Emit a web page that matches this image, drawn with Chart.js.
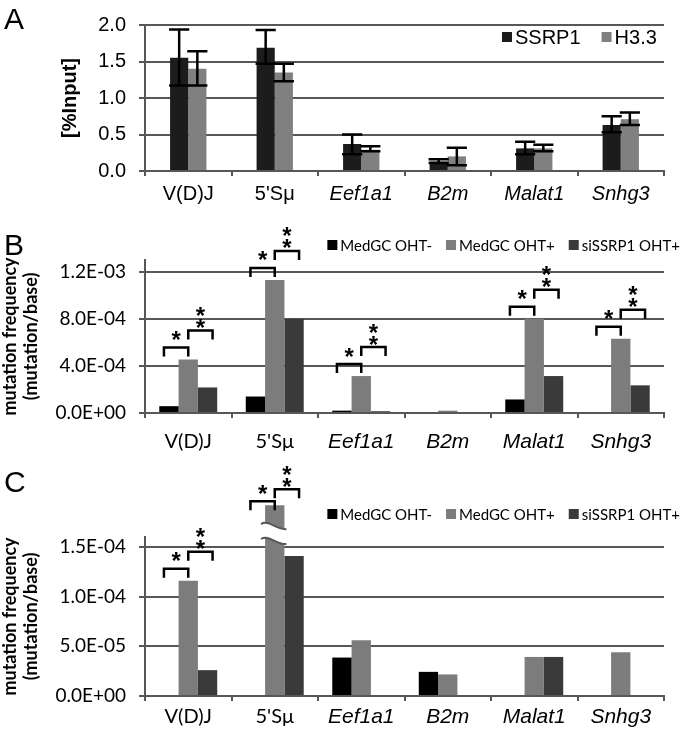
<!DOCTYPE html>
<html>
<head>
<meta charset="utf-8">
<title>SSRP1 ChIP and mutation frequency</title>
<script src="https://cdn.jsdelivr.net/npm/chart.js@4.4.0/dist/chart.umd.min.js"></script>
<style>
    html, body { margin: 0; padding: 0; background: #fff; }
    #figure { position: relative; width: 683px; height: 737px; overflow: hidden; background: #fff; }
    #figure canvas { position: absolute; left: 0; }
    .panel-letter {
        position: absolute;
        left: 4px;
        font: 30px "Liberation Sans", Arial, sans-serif;
        color: #000;
        line-height: 1;
    }
</style>
</head>
<body>
<div id="figure">
    <canvas id="chart-a" width="683" height="210" style="top:0"></canvas>
    <canvas id="chart-b" width="683" height="235" style="top:225px"></canvas>
    <canvas id="chart-c" width="683" height="277" style="top:460px"></canvas>
    <div class="panel-letter" style="top:4px">A</div>
    <div class="panel-letter" style="top:230px">B</div>
    <div class="panel-letter" style="top:467px">C</div>
</div>
<script>
// Categories shared by all three panels
const GENES = ['V(D)J', "5'Sμ", 'Eef1a1', 'B2m', 'Malat1', 'Snhg3'];

// Panel A - ChIP (% input) with error bars
const CHIP_SERIES = ['SSRP1', 'H3.3'];
const SSRP1_INPUT = [1.55, 1.69, 0.37, 0.13, 0.31, 0.63];
const SSRP1_LOW = [1.17, 1.47, 0.23, 0.11, 0.23, 0.53];
const SSRP1_HIGH = [1.94, 1.93, 0.50, 0.16, 0.40, 0.75];
const H33_INPUT = [1.40, 1.35, 0.29, 0.20, 0.31, 0.71];
const H33_LOW = [1.17, 1.23, 0.27, 0.08, 0.27, 0.63];
const H33_HIGH = [1.64, 1.47, 0.34, 0.32, 0.36, 0.80];
const A_TICKS = [0, 0.5, 1.0, 1.5, 2.0];
const A_MAX = 2.0;

// Panels B and C - mutation frequency (mutation/base)
const MUT_SERIES = ['MedGC OHT-', 'MedGC OHT+', 'siSSRP1 OHT+'];

const B_OHT_NEG = [0.58e-4, 1.40e-4, 0.20e-4, 0, 1.15e-4, 0];
const B_OHT_POS = [4.55e-4, 11.3e-4, 3.14e-4, 0.20e-4, 8.0e-4, 6.3e-4];
const B_SI = [2.17e-4, 8.0e-4, 0.15e-4, 0, 3.14e-4, 2.35e-4];
const B_TICKS = [0, 4e-4, 8e-4, 1.2e-3];
const B_MAX = 1.3e-3;
const B_SIGNIFICANT = ['V(D)J', "5'Sμ", 'Eef1a1', 'Malat1', 'Snhg3'];

const C_OHT_NEG = [0, 0, 3.87e-5, 2.43e-5, 0, 0];
const C_OHT_POS = [1.16e-4, 1.92e-4, 5.6e-5, 2.17e-5, 3.93e-5, 4.4e-5];
const C_SI = [2.6e-5, 1.41e-4, 0, 0, 3.93e-5, 0];
const C_TICKS = [0, 5e-5, 1.0e-4, 1.5e-4];
const C_MAX = 1.6e-4;
const C_SIGNIFICANT = ['V(D)J', "5'Sμ"];
const C_BROKEN = "5'Sμ"; // MedGC OHT+ bar runs off the axis

// Fonts
const ARIAL = '"Liberation Sans", Arial, sans-serif';
const CALIBRI = 'Lato, "Open Sans", sans-serif';
const AXIS_GREY = '#575757';

/**
 * Format a number like Excel's 0.0E+00
 */
function sci(value) {
    if (value === 0) return '0.0E+00';
    const [mant, exp] = value.toExponential(1).split('e');
    const n = parseInt(exp, 10);
    return mant + 'E' + (n < 0 ? '-' : '+') + String(Math.abs(n)).padStart(2, '0');
}

/**
 * Error bars for datasets that carry errorLow / errorHigh
 */
const errorBarPlugin = {
    id: 'errorBars',
    afterDatasetsDraw(chart) {
        const { ctx } = chart;
        const y = chart.scales.y;
        chart.data.datasets.forEach((ds, di) => {
            if (!ds.errorLow) return;
            chart.getDatasetMeta(di).data.forEach((bar, i) => {
                const top = y.getPixelForValue(ds.errorHigh[i]);
                const bottom = y.getPixelForValue(ds.errorLow[i]);
                const half = bar.width / 2 + 1;
                ctx.save();
                ctx.strokeStyle = '#000';
                ctx.lineWidth = 2.5;
                ctx.beginPath();
                ctx.moveTo(bar.x, top);
                ctx.lineTo(bar.x, bottom);
                ctx.moveTo(bar.x - half, top);
                ctx.lineTo(bar.x + half, top);
                ctx.moveTo(bar.x - half, bottom);
                ctx.lineTo(bar.x + half, bottom);
                ctx.stroke();
                ctx.restore();
            });
        });
    }
};

/**
 * Small legend: anchored on its left edge or on its right edge
 */
const cornerLegendPlugin = {
    id: 'cornerLegend',
    afterDraw(chart, args, opts) {
        if (!opts.y) return;
        const ctx = chart.ctx;
        ctx.save();
        ctx.font = opts.font;
        ctx.textBaseline = 'middle';
        const box = opts.box;
        const textGap = 3;
        const items = chart.data.datasets.map(ds => ({
            text: ds.label,
            color: ds.backgroundColor,
            width: ctx.measureText(ds.label).width
        }));
        const total = items.reduce((sum, it) => sum + box + textGap + it.width, 0) + opts.gap * (items.length - 1);
        let x = opts.left !== undefined ? opts.left : opts.right - total;
        items.forEach(it => {
            ctx.fillStyle = it.color;
            ctx.fillRect(x, opts.y - box / 2, box, box);
            ctx.fillStyle = '#000';
            ctx.fillText(it.text, x + box + textGap, opts.y + 1);
            x += box + textGap + it.width + opts.gap;
        });
        ctx.restore();
    }
};

function drawBracket(ctx, left, right, top) {
    ctx.beginPath();
    ctx.moveTo(left, top + 9);
    ctx.lineTo(left, top);
    ctx.lineTo(right, top);
    ctx.lineTo(right, top + 9);
    ctx.stroke();
}

// asterisks stacked upward from a centre point
function drawStars(ctx, x, y, count) {
    const size = 24;
    for (let k = 0; k < count; k++) {
        ctx.fillText('*', x, y - k * 12 + size * 0.52);
    }
}

/**
 * Significance brackets: OHT- vs OHT+ (*) and OHT+ vs siSSRP1 (**)
 */
const significancePlugin = {
    id: 'significance',
    afterDatasetsDraw(chart, args, opts) {
        if (!opts.genes) return;
        const ctx = chart.ctx;
        const [neg, pos, si] = [0, 1, 2].map(i => chart.getDatasetMeta(i).data);
        ctx.save();
        ctx.strokeStyle = '#000';
        ctx.fillStyle = '#000';
        ctx.lineWidth = 2.5;
        ctx.font = 'bold 24px ' + ARIAL;
        ctx.textAlign = 'center';
        ctx.textBaseline = 'alphabetic';
        opts.genes.forEach(gene => {
            const i = chart.data.labels.indexOf(gene);
            const tight = gene === opts.tightGene;
            const top1 = pos[i].y - (tight ? 4 : 12);
            const top2 = top1 - (tight ? 12 : 17);
            const l1 = neg[i].x - 5, r1 = pos[i].x;
            const l2 = pos[i].x, r2 = si[i].x + 5;
            drawBracket(ctx, l1, r1, top1);
            drawBracket(ctx, l2, r2, top2);
            drawStars(ctx, (l1 + r1) / 2, top1 - 12, 1);
            drawStars(ctx, (l2 + r2) / 2, top2 - 7, 2);
        });
        ctx.restore();
    }
};

/**
 * Wavy break across a bar that runs past the top of the axis
 */
const axisBreakPlugin = {
    id: 'axisBreak',
    afterDatasetsDraw(chart, args, opts) {
        if (!opts.gene) return;
        const i = chart.data.labels.indexOf(opts.gene);
        const bar = chart.getDatasetMeta(opts.dataset).data[i];
        const y = chart.scales.y;
        const yUp = y.getPixelForValue(opts.upper);
        const yLow = y.getPixelForValue(opts.lower);
        const x0 = bar.x - bar.width / 2 - 4;
        const x1 = bar.x + bar.width / 2 + 2;
        const w = x1 - x0;
        const ctx = chart.ctx;
        const wave = (yb, forward) => {
            if (forward) {
                ctx.bezierCurveTo(x0 + 0.3 * w, yb - 5, x0 + 0.6 * w, yb + 6, x1, yb + 5);
            } else {
                ctx.bezierCurveTo(x0 + 0.6 * w, yb + 6, x0 + 0.3 * w, yb - 5, x0, yb);
            }
        };
        ctx.save();
        ctx.fillStyle = '#fff';
        ctx.beginPath();
        ctx.moveTo(x0, yUp);
        wave(yUp, true);
        ctx.lineTo(x1, yLow + 5);
        wave(yLow, false);
        ctx.closePath();
        ctx.fill();
        ctx.strokeStyle = '#555';
        ctx.lineWidth = 2;
        ctx.beginPath();
        ctx.moveTo(x0, yUp);
        wave(yUp, true);
        ctx.moveTo(x0, yLow);
        wave(yLow, true);
        ctx.stroke();
        ctx.restore();
    }
};

/**
 * Build one bar panel
 */
function buildPanel(canvasId, cfg) {
    return new Chart(document.getElementById(canvasId), {
        type: 'bar',
        data: { labels: GENES, datasets: cfg.datasets },
        options: {
            responsive: false,
            animation: false,
            layout: { padding: { top: cfg.padTop, right: 19, bottom: 0, left: 0 } },
            datasets: {
                bar: { categoryPercentage: cfg.catPct, barPercentage: 1, borderWidth: 0 }
            },
            plugins: {
                legend: { display: false },
                tooltip: { enabled: false },
                cornerLegend: cfg.legend,
                significance: cfg.significance || {},
                axisBreak: cfg.axisBreak || {}
            },
            scales: {
                x: {
                    afterFit: s => { s.height = cfg.xHeight; },
                    ticks: {
                        color: '#000',
                        padding: cfg.xPad,
                        maxRotation: 0,
                        autoSkip: false,
                        font: ctx => ({
                            family: ctx.index >= 2 ? ARIAL : cfg.xFamily,
                            size: ctx.index >= 2 ? cfg.xItalicSize : cfg.xSize,
                            style: ctx.index >= 2 ? 'italic' : 'normal'
                        })
                    },
                    grid: { drawOnChartArea: false, color: AXIS_GREY, lineWidth: 2, tickLength: 5, offset: true },
                    border: { color: AXIS_GREY, width: 2 }
                },
                y: {
                    min: 0,
                    max: cfg.yMax,
                    bounds: 'data',
                    afterBuildTicks: s => { s.ticks = cfg.yTicks.map(v => ({ value: v })); },
                    afterFit: s => { s.width = 145; },
                    ticks: { callback: cfg.yFormat, color: '#000', padding: 13, font: cfg.yTickFont },
                    grid: { color: AXIS_GREY, lineWidth: 2, tickLength: 6 },
                    border: { color: AXIS_GREY, width: 2 },
                    title: {
                        display: true,
                        text: cfg.yTitle,
                        color: '#000',
                        font: cfg.yTitleFont,
                        padding: { top: cfg.titlePad, bottom: 0 }
                    }
                }
            }
        },
        plugins: [errorBarPlugin, significancePlugin, axisBreakPlugin, cornerLegendPlugin]
    });
}

function mutationDatasets(neg, pos, si, breakPos) {
    return [
        { label: MUT_SERIES[0], data: neg, backgroundColor: '#000000' },
        { label: MUT_SERIES[1], data: pos, backgroundColor: '#7c7c7c', clip: breakPos ? false : undefined },
        { label: MUT_SERIES[2], data: si, backgroundColor: '#3a3a3a' }
    ];
}

// Panel A
buildPanel('chart-a', {
    datasets: [
        { label: CHIP_SERIES[0], data: SSRP1_INPUT, backgroundColor: '#1c1c1c', errorLow: SSRP1_LOW, errorHigh: SSRP1_HIGH },
        { label: CHIP_SERIES[1], data: H33_INPUT, backgroundColor: '#808080', errorLow: H33_LOW, errorHigh: H33_HIGH }
    ],
    padTop: 16,
    xHeight: 39,
    xPad: 6,
    xFamily: ARIAL,
    xSize: 20,
    xItalicSize: 20,
    catPct: 0.42,
    yMax: A_MAX,
    yTicks: A_TICKS,
    yFormat: v => v.toFixed(1),
    yTickFont: { family: ARIAL, size: 20 },
    yTitle: '[%Input]',
    yTitleFont: { family: ARIAL, size: 20, weight: 'bold' },
    titlePad: 58,
    legend: { left: 502, y: 37, box: 10, gap: 21, font: '20px ' + ARIAL }
});

// Panel B
buildPanel('chart-b', {
    datasets: mutationDatasets(B_OHT_NEG, B_OHT_POS, B_SI, false),
    padTop: 35,
    xHeight: 47,
    xPad: 12,
    xFamily: CALIBRI,
    xSize: 20,
    xItalicSize: 21,
    catPct: 0.67,
    yMax: B_MAX,
    yTicks: B_TICKS,
    yFormat: sci,
    yTickFont: { family: CALIBRI, size: 19 },
    yTitle: ['mutation frequency', '(mutation/base)'],
    yTitleFont: { family: CALIBRI, size: 18, weight: 'bold', lineHeight: 1.15 },
    titlePad: 0,
    legend: { right: 680, y: 20, box: 10, gap: 14, font: '15px ' + CALIBRI },
    significance: { genes: B_SIGNIFICANT }
});

// Panel C
buildPanel('chart-c', {
    datasets: mutationDatasets(C_OHT_NEG, C_OHT_POS, C_SI, true),
    padTop: 77,
    xHeight: 41,
    xPad: 4,
    xFamily: CALIBRI,
    xSize: 20,
    xItalicSize: 21,
    catPct: 0.67,
    yMax: C_MAX,
    yTicks: C_TICKS,
    yFormat: sci,
    yTickFont: { family: CALIBRI, size: 19 },
    yTitle: ['mutation frequency', '(mutation/base)'],
    yTitleFont: { family: CALIBRI, size: 18, weight: 'bold', lineHeight: 1.15 },
    titlePad: 0,
    legend: { right: 680, y: 54, box: 10, gap: 14, font: '15px ' + CALIBRI },
    significance: { genes: C_SIGNIFICANT, tightGene: C_BROKEN },
    axisBreak: { gene: C_BROKEN, dataset: 1, upper: 1.73e-4, lower: 1.58e-4 }
});
</script>
</body>
</html>
